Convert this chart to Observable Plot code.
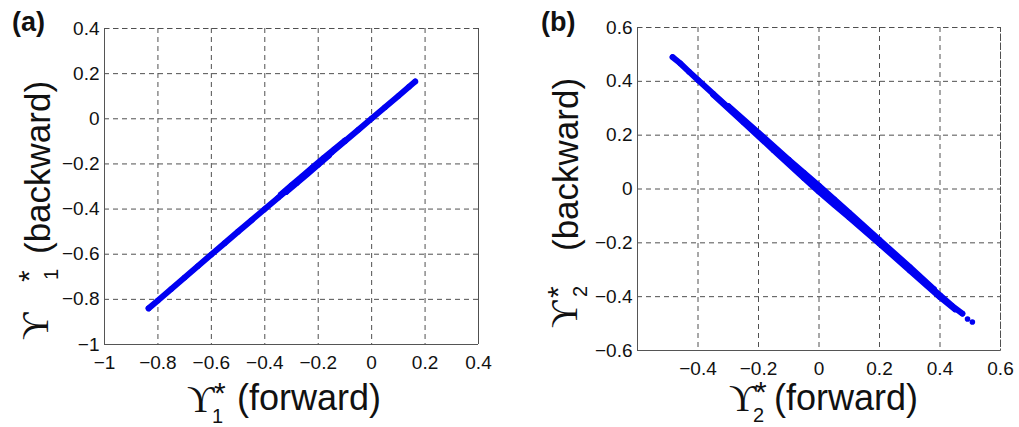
<!DOCTYPE html>
<html><head><meta charset="utf-8">
<script src="https://cdn.jsdelivr.net/npm/d3@7"></script>
<script src="https://cdn.jsdelivr.net/npm/@observablehq/plot@0.6"></script>
<style>
body{margin:0;background:#fff;}
#wrap{position:relative;width:1019px;height:427px;overflow:hidden;background:#fff;}
#wrap svg{position:absolute;top:0;}
</style></head><body><div id="wrap"></div>
<script>
// ---------- tick values ----------
const ticksA = [-1, -0.8, -0.6, -0.4, -0.2, 0, 0.2, 0.4];
const xTicksB = [-0.4, -0.2, 0, 0.2, 0.4, 0.6];
const yTicksB = [-0.6, -0.4, -0.2, 0, 0.2, 0.4, 0.6];

// ---------- panel (a): Y1* forward vs backward ----------
const coreFwdA  = [-0.835, -0.8, -0.75, -0.7, -0.65, -0.6, -0.55, -0.5, -0.45, -0.4, -0.35, -0.3, -0.25, -0.2, -0.15, -0.1, -0.05, 0, 0.05, 0.1, 0.14, 0.163];
const coreBwdA  = [-0.84, -0.805, -0.754, -0.703, -0.652, -0.601, -0.551, -0.5, -0.45, -0.4, -0.35, -0.3, -0.249, -0.199, -0.149, -0.099, -0.049, 0.001, 0.051, 0.101, 0.142, 0.165];
const upperFwdA = [-0.34, -0.3, -0.26, -0.22, -0.18, -0.14, -0.1];
const upperBwdA = [-0.336, -0.295, -0.255, -0.214, -0.174, -0.135, -0.096];
const lowerFwdA = [-0.32, -0.28, -0.24, -0.2, -0.16];
const lowerBwdA = [-0.324, -0.284, -0.244, -0.204, -0.163];

// ---------- panel (b): Y2* forward vs backward ----------
const coreFwdB  = [-0.484, -0.46, -0.43, -0.4, -0.35, -0.3, -0.25, -0.2, -0.15, -0.1, -0.05, 0, 0.05, 0.1, 0.15, 0.2, 0.25, 0.3, 0.35, 0.4, 0.44, 0.474];
const coreBwdB  = [0.49, 0.468, 0.436, 0.405, 0.354, 0.303, 0.252, 0.201, 0.15, 0.1, 0.05, 0, -0.049, -0.098, -0.147, -0.196, -0.246, -0.296, -0.346, -0.395, -0.434, -0.463];
const upperFwdB = [-0.3, -0.2, -0.1, -0.05, 0, 0.05, 0.1, 0.2, 0.3, 0.38];
const upperBwdB = [0.308, 0.209, 0.109, 0.06, 0.012, -0.038, -0.088, -0.189, -0.29, -0.372];
const lowerFwdB = [-0.35, -0.25, -0.15, -0.05, 0, 0.05, 0.1, 0.2, 0.3, 0.4, 0.45];
const lowerBwdB = [0.351, 0.248, 0.144, 0.041, -0.01, -0.058, -0.106, -0.203, -0.303, -0.402, -0.447];
const tailFwdB  = [0.491, 0.507];
const tailBwdB  = [-0.483, -0.494];

// ---------- helpers ----------
const rows = (f, b, g) => f.map((v, i) => ({f: v, b: b[i], g}));
const fmt = d3.format("");
const BLUE = "#0000f2";
const GRID = "#505050";

function panel({left, width, mL, mR, mT, mB, xDom, yDom, xT, yT, lines, dots}) {
  const svg = Plot.plot({
    width, height: 427,
    marginLeft: mL, marginRight: mR, marginTop: mT, marginBottom: mB,
    style: {fontFamily: "'Liberation Sans', Arial, sans-serif", color: "#111", background: "transparent", overflow: "visible"},
    x: {domain: xDom, label: null},
    y: {domain: yDom, label: null},
    marks: [
      Plot.gridX(xT, {stroke: GRID, strokeOpacity: 1, strokeDasharray: "5,4"}),
      Plot.gridY(yT, {stroke: GRID, strokeOpacity: 1, strokeDasharray: "5,4"}),
      Plot.frame({stroke: GRID, strokeDasharray: "5,4"}),
      Plot.ruleX([xDom[0]], {stroke: "#555"}),
      Plot.ruleY([yDom[0]], {stroke: "#555"}),
      Plot.axisX(xT, {tickSize: 0, tickPadding: 11, fontSize: 19, tickFormat: fmt, label: null}),
      Plot.axisY(yT, {tickSize: 0, tickPadding: 5, fontSize: 19, tickFormat: fmt, label: null}),
      Plot.line(lines, {x: "f", y: "b", z: "g", stroke: BLUE, strokeWidth: 6, strokeLinecap: "round", strokeLinejoin: "round", curve: "linear"}),
      Plot.dot(dots, {x: "f", y: "b", r: 2.8, fill: BLUE, stroke: "none"})
    ]
  });
  svg.style.left = left + "px";
  document.getElementById("wrap").appendChild(svg);
  return d3.select(svg);
}

function txt(sel, x, y, s, size, opts = {}) {
  const t = sel.append("text")
    .attr("x", x).attr("y", y)
    .attr("text-anchor", "start")
    .attr("font-size", size)
    .attr("font-family", opts.serif ? "'Liberation Serif','DejaVu Serif',serif" : "'Liberation Sans', Arial, sans-serif")
    .attr("font-weight", opts.bold ? "bold" : "normal")
    .attr("fill", "#111")
    .text(s);
  if (opts.rot) t.attr("transform", `rotate(-90 ${x} ${y})`);
  return t;
}

// ---------- panel (a) ----------
const linesA = [...rows(coreFwdA, coreBwdA, "core"), ...rows(upperFwdA, upperBwdA, "up"), ...rows(lowerFwdA, lowerBwdA, "lo")];
const sA = panel({left: 0, width: 510, mL: 104, mR: 32, mT: 28, mB: 83,
  xDom: [-1, 0.4], yDom: [-1, 0.4], xT: ticksA, yT: ticksA, lines: linesA, dots: linesA});
txt(sA, 12, 31, "(a)", 27, {bold: true});
// x label
txt(sA, 187, 412, "ϒ", 38, {serif: true});
txt(sA, 214, 403, "*", 30);
txt(sA, 212, 423, "1", 20);
txt(sA, 237, 410, "(forward)", 36);
// y label (rotated)
txt(sA, 48, 340, "ϒ", 38, {serif: true, rot: true});
txt(sA, 39, 282, "*", 30, {rot: true});
txt(sA, 58, 280, "1", 20, {rot: true});
txt(sA, 50, 254, "(backward)", 35, {rot: true});

// ---------- panel (b) ----------
const linesB = [...rows(coreFwdB, coreBwdB, "core"), ...rows(upperFwdB, upperBwdB, "up"), ...rows(lowerFwdB, lowerBwdB, "lo")];
const dotsB = [...linesB, ...rows(tailFwdB, tailBwdB, "tail")];
const sB = panel({left: 510, width: 509, mL: 127, mR: 19, mT: 27, mB: 77,
  xDom: [-0.6, 0.6], yDom: [-0.6, 0.6], xT: xTicksB, yT: yTicksB, lines: linesB, dots: dotsB});
txt(sB, 31, 31, "(b)", 27, {bold: true});
// x label
txt(sB, 219, 411, "ϒ", 38, {serif: true});
txt(sB, 245, 402, "*", 30);
txt(sB, 243, 422, "2", 20);
txt(sB, 264, 410, "(forward)", 36);
// y label (rotated)
txt(sB, 67, 328, "ϒ", 38, {serif: true, rot: true});
txt(sB, 58, 298, "*", 30, {rot: true});
txt(sB, 77, 297, "2", 20, {rot: true});
txt(sB, 68, 251, "(backward)", 35, {rot: true});
</script>
</body></html>
